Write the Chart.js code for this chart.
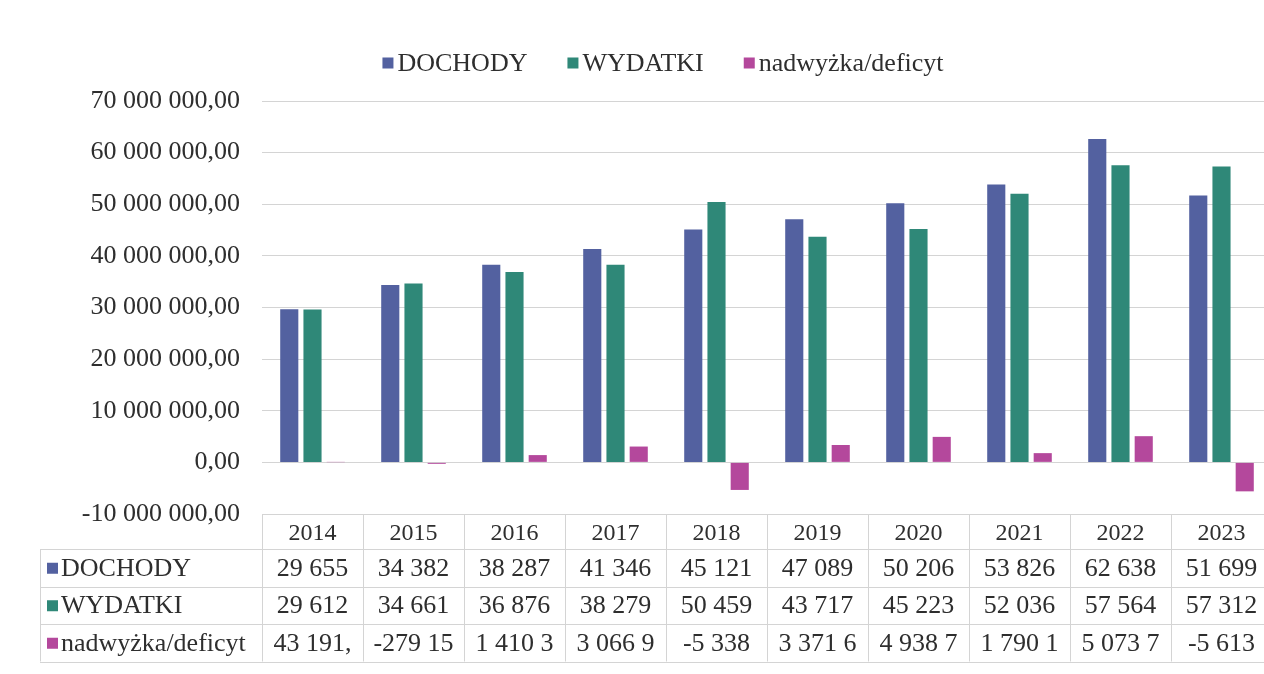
<!DOCTYPE html>
<html>
<head>
<meta charset="utf-8">
<script src="https://cdn.jsdelivr.net/npm/chart.js@4/dist/chart.umd.min.js"></script>
<style>
  html, body { margin: 0; padding: 0; background: #fff; overflow: hidden; }
  #wrap { position: relative; width: 1272px; height: 674px; }
</style>
</head>
<body>
<div id="wrap"><canvas id="chart" width="1272" height="674"></canvas></div>
<script>
const years = ["2014", "2015", "2016", "2017", "2018", "2019", "2020", "2021", "2022", "2023"];
const dochody = [29655000, 34382000, 38287000, 41346000, 45121000, 47089000, 50206000, 53826000, 62638000, 51699000];
const wydatki = [29612000, 34661000, 36876000, 38279000, 50459000, 43717000, 45223000, 52036000, 57564000, 57312000];
const saldo = [43191, -279150, 1410300, 3066900, -5338000, 3371600, 4938700, 1790100, 5073700, -5613000];
const seriesNames = ["DOCHODY", "WYDATKI", "nadwyżka/deficyt"];
const seriesColors = ["#5361a0", "#2f8878", "#b4489c"];
const yMin = -10000000;
const yMax = 70000000;
const yStep = 10000000;

const FONT = "'Liberation Serif', 'DejaVu Serif', serif";
const TEXT = "#2e2e2e";
const LINE = "#d4d4d4";

// 70 000 000,00 style
function fmt(v) {
  const neg = v < 0;
  let [i, d] = Math.abs(v).toFixed(2).split(".");
  i = i.replace(/\B(?=(\d{3})+(?!\d))/g, " ");
  return (neg ? "-" : "") + i + "," + d;
}

// the cells in the table are too narrow, only the first chars show
function cellText(v) {
  return fmt(v).slice(0, 7).trim();
}

/* =========================
   LEGEND (top, centered)
========================= */
const legendPlugin = {
  id: "topLegend",
  afterDraw(chart) {
    const ctx = chart.ctx;
    ctx.save();
    ctx.font = "26px " + FONT;
    ctx.textBaseline = "middle";
    const box = 11, gapText = 4, gapItem = 40;
    const widths = seriesNames.map(n => box + gapText + ctx.measureText(n).width);
    const total = widths.reduce((a, b) => a + b, 0) + gapItem * (widths.length - 1);
    let x = 663 - total / 2;
    const y = 63;
    seriesNames.forEach((n, i) => {
      ctx.fillStyle = seriesColors[i];
      ctx.fillRect(x, y - box / 2, box, box);
      ctx.fillStyle = TEXT;
      ctx.textAlign = "left";
      ctx.fillText(n, x + box + gapText, y + 1);
      x += widths[i] + gapItem;
    });
    ctx.restore();
  },
};

/* =========================
   DATA TABLE under the plot
========================= */
const tablePlugin = {
  id: "dataTable",
  afterDraw(chart) {
    const ctx = chart.ctx;
    const area = chart.chartArea;
    const xs = chart.scales.x;
    const n = years.length;
    const colW = (area.right - area.left) / n;
    const top = area.bottom;
    const headH = 35, rowH = 37.5;
    const labelLeft = 40;
    const rows = [dochody, wydatki, saldo];
    const bottom = top + headH + rowH * rows.length;

    ctx.save();
    ctx.strokeStyle = LINE;
    ctx.lineWidth = 1;
    ctx.beginPath();
    ctx.moveTo(area.left, top + 0.5);
    ctx.lineTo(area.right, top + 0.5);
    for (let r = 0; r <= rows.length; r++) {
      const y = Math.round(top + headH + rowH * r) + 0.5;
      ctx.moveTo(labelLeft, y);
      ctx.lineTo(area.right, y);
    }
    ctx.moveTo(labelLeft + 0.5, top + headH);
    ctx.lineTo(labelLeft + 0.5, bottom);
    for (let c = 0; c <= n; c++) {
      const x = Math.round(area.left + colW * c) + 0.5;
      ctx.moveTo(x, top);
      ctx.lineTo(x, bottom);
    }
    ctx.stroke();

    ctx.fillStyle = TEXT;
    ctx.textBaseline = "middle";
    ctx.textAlign = "center";
    ctx.font = "24px " + FONT;
    years.forEach((yr, i) => {
      ctx.fillText(yr, xs.getPixelForValue(i), top + headH / 2 + 2);
    });

    ctx.font = "26px " + FONT;
    rows.forEach((vals, r) => {
      const cy = top + headH + rowH * r + rowH / 2;
      ctx.fillStyle = seriesColors[r];
      ctx.fillRect(labelLeft + 7, cy - 5, 11, 11);
      ctx.fillStyle = TEXT;
      ctx.textAlign = "left";
      ctx.fillText(seriesNames[r], labelLeft + 21, cy + 1);
      ctx.textAlign = "center";
      vals.forEach((v, i) => {
        ctx.fillText(cellText(v), xs.getPixelForValue(i), cy + 1);
      });
    });
    ctx.restore();
  },
};

/* =========================
   CHART
========================= */
const chart = new Chart(document.getElementById("chart"), {
  type: "bar",
  data: {
    labels: years,
    datasets: [
      { label: seriesNames[0], data: dochody, backgroundColor: seriesColors[0] },
      { label: seriesNames[1], data: wydatki, backgroundColor: seriesColors[1] },
      { label: seriesNames[2], data: saldo, backgroundColor: seriesColors[2] },
    ],
  },
  options: {
    responsive: false,
    animation: false,
    categoryPercentage: 0.69,
    barPercentage: 0.78,
    layout: { padding: { top: 101, bottom: 160, left: 0, right: 0 } },
    plugins: {
      legend: { display: false },
      tooltip: { enabled: false },
    },
    scales: {
      x: { display: false },
      y: {
        min: yMin,
        max: yMax,
        afterFit(scale) { scale.width = 262; },
        ticks: {
          stepSize: yStep,
          padding: 22,
          color: TEXT,
          font: { family: FONT, size: 26 },
          callback: (v) => fmt(v),
        },
        grid: { drawTicks: false, color: LINE },
        border: { display: false },
      },
    },
  },
  plugins: [legendPlugin, tablePlugin],
});
</script>
</body>
</html>
